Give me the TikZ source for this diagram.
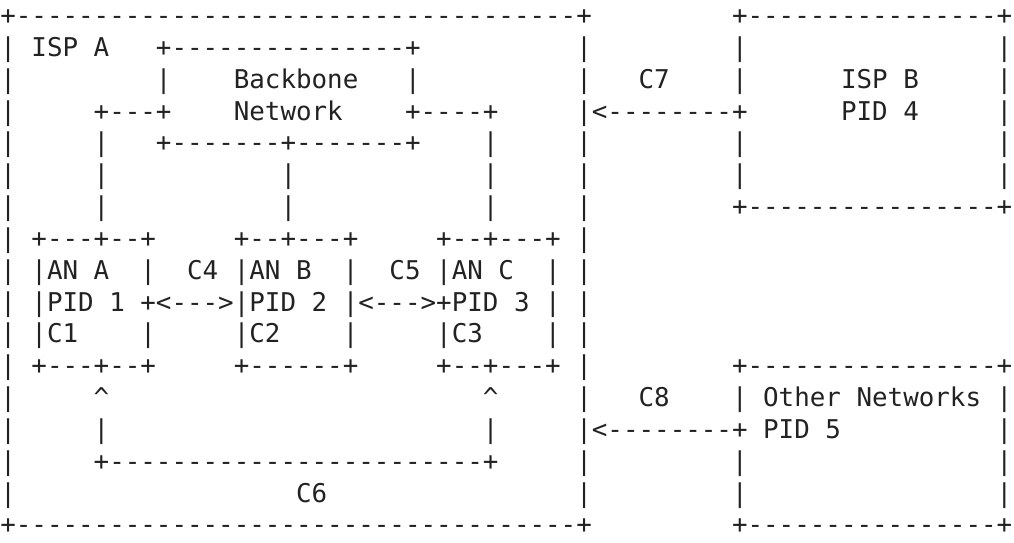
\documentclass[tikz,border=0pt]{standalone}
\usepackage{fontspec}
\setmonofont{DejaVu Sans Mono}
\usepackage{tikz}
\definecolor{ink}{HTML}{222222}
\ExplSyntaxOn
\NewDocumentCommand{\rpt}{m m}{\prg_replicate:nn {#1} {#2}}
\ExplSyntaxOff

\begin{document}
\begin{tikzpicture}[x=1pt,y=-1pt,
    asciirow/.style={anchor=base west,inner sep=0pt,outer sep=0pt,
        font=\ttfamily\fontsize{25.86}{31.8}\selectfont,text=ink}]
        \useasboundingbox (0,0) rectangle (1014,542);
        % top line
        \node[asciirow] (l1) at (0.3,24.5) {+\rpt{36}{-}+\rpt{9}{\ }+\rpt{16}{-}+};
        % backbone and ISP B
        \node[asciirow] (l2) at (0.3,56.34) {| ISP A\rpt{3}{\ }+\rpt{15}{-}+\rpt{10}{\ }|\rpt{9}{\ }|\rpt{16}{\ }|};
        \node[asciirow] (l3) at (0.3,88.18) {|\rpt{9}{\ }|\rpt{4}{\ }Backbone\rpt{3}{\ }|\rpt{10}{\ }|\rpt{3}{\ }C7\rpt{4}{\ }|\rpt{6}{\ }ISP B\rpt{5}{\ }|};
        \node[asciirow] (l4) at (0.3,120.02) {|\rpt{5}{\ }+\rpt{3}{-}+\rpt{4}{\ }Network\rpt{4}{\ }+\rpt{4}{-}+\rpt{5}{\ }|<\rpt{8}{-}+\rpt{6}{\ }PID 4\rpt{5}{\ }|};
        \node[asciirow] (l5) at (0.3,151.86) {|\rpt{5}{\ }|\rpt{3}{\ }+\rpt{7}{-}+\rpt{7}{-}+\rpt{4}{\ }|\rpt{5}{\ }|\rpt{9}{\ }|\rpt{16}{\ }|};
        \node[asciirow] (l6) at (0.3,183.70) {|\rpt{5}{\ }|\rpt{11}{\ }|\rpt{12}{\ }|\rpt{5}{\ }|\rpt{9}{\ }|\rpt{16}{\ }|};
        \node[asciirow] (l7) at (0.3,215.54) {|\rpt{5}{\ }|\rpt{11}{\ }|\rpt{12}{\ }|\rpt{5}{\ }|\rpt{9}{\ }+\rpt{16}{-}+};
        % access networks
        \node[asciirow] (l8) at (0.3,247.38) {| +---+--+\rpt{5}{\ }+--+---+\rpt{5}{\ }+--+---+ |};
        \node[asciirow] (l9) at (0.3,279.22) {| |AN A\rpt{2}{\ }|\rpt{2}{\ }C4 |AN B\rpt{2}{\ }|\rpt{2}{\ }C5 |AN C\rpt{2}{\ }| |};
        \node[asciirow] (l10) at (0.3,311.06) {| |PID 1 +<--->|PID 2 |<--->+PID 3 | |};
        \node[asciirow] (l11) at (0.3,342.90) {| |C1\rpt{4}{\ }|\rpt{5}{\ }|C2\rpt{4}{\ }|\rpt{5}{\ }|C3\rpt{4}{\ }| |};
        \node[asciirow] (l12) at (0.3,374.74) {| +---+--+\rpt{5}{\ }+\rpt{6}{-}+\rpt{5}{\ }+--+---+ |\rpt{9}{\ }+\rpt{16}{-}+};
        % C6 and other networks
        \node[asciirow] (l13) at (0.3,406.58) {|\rpt{5}{\ }\textasciicircum\rpt{24}{\ }\textasciicircum\rpt{5}{\ }|\rpt{3}{\ }C8\rpt{4}{\ }| Other Networks |};
        \node[asciirow] (l14) at (0.3,438.42) {|\rpt{5}{\ }|\rpt{24}{\ }|\rpt{5}{\ }|<\rpt{8}{-}+ PID 5\rpt{10}{\ }|};
        \node[asciirow] (l15) at (0.3,470.26) {|\rpt{5}{\ }+\rpt{24}{-}+\rpt{5}{\ }|\rpt{9}{\ }|\rpt{16}{\ }|};
        \node[asciirow] (l16) at (0.3,502.10) {|\rpt{18}{\ }C6\rpt{16}{\ }|\rpt{9}{\ }|\rpt{16}{\ }|};
        % bottom line
        \node[asciirow] (l17) at (0.3,533.94) {+\rpt{36}{-}+\rpt{9}{\ }+\rpt{16}{-}+};
\end{tikzpicture}
\end{document}
